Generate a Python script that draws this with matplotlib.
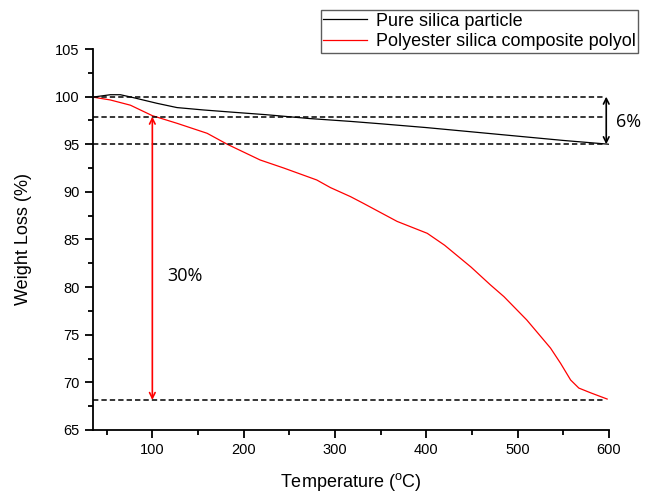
import numpy as np
import matplotlib
matplotlib.use("Agg")
import matplotlib.pyplot as plt
from matplotlib.ticker import MultipleLocator

plt.rcParams['font.family'] = ['Liberation Sans', 'DejaVu Sans']
plt.rcParams['mathtext.fontset'] = 'custom'
plt.rcParams['mathtext.rm'] = 'Liberation Sans'
plt.rcParams['mathtext.it'] = 'Liberation Sans'

# Pure silica particle
silica_T = [35, 54, 65, 79, 105, 127, 156, 190, 225, 272, 317, 350, 400, 450, 500, 550, 600]
silica_W = [99.95, 100.2, 100.2, 99.9, 99.3, 98.85, 98.6, 98.35, 98.1, 97.7, 97.4, 97.15, 96.75,
            96.3, 95.85, 95.4, 95.0]

# Polyester silica composite polyol
poly_T = [35, 54, 76, 100, 127, 160, 182, 218, 244, 280, 295, 317, 331, 368, 401, 420, 449, 470,
          485, 510, 536, 547, 558, 567, 580, 598]
poly_W = [99.95, 99.65, 99.1, 98.0, 97.2, 96.15, 95.0, 93.35, 92.5, 91.25, 90.45, 89.5, 88.8,
          86.9, 85.65, 84.4, 82.1, 80.25, 79.0, 76.55, 73.6, 72.0, 70.25, 69.4, 68.9, 68.25]

ref_levels = [100.0, 97.9, 95.0, 68.15]
ref_end_T = 595
arrow6_T = 597
arrow30_T = 100

fig = plt.figure(figsize=(6.58, 4.93), dpi=100)
ax = fig.add_axes([0.1413, 0.1278, 0.7842, 0.7728])

l1, = ax.plot(silica_T, silica_W, color='black', lw=0.9, label='Pure silica particle')
l2, = ax.plot(poly_T, poly_W, color='red', lw=0.9, label='Polyester silica composite polyol')

for lv in ref_levels:
    ax.plot([35, ref_end_T], [lv, lv], color='black', lw=1.1, ls=(0, (3.5, 2)))

ax.annotate('', xy=(arrow6_T, 95.0), xytext=(arrow6_T, 100.0),
            arrowprops=dict(arrowstyle='<->', color='black', lw=1.2, shrinkA=0, shrinkB=0))
ax.text(608, 97.3, '6%', fontsize=13, ha='left', va='center', family=['Open Sans', 'DejaVu Sans'],
        clip_on=False)
ax.annotate('', xy=(arrow30_T, 68.15), xytext=(arrow30_T, 97.9),
            arrowprops=dict(arrowstyle='<->', color='red', lw=1.2, shrinkA=0, shrinkB=0))
ax.text(116, 81.2, '30%', fontsize=13, ha='left', va='center', family=['Open Sans', 'DejaVu Sans'])

ax.set_xlim(35, 600)
ax.set_ylim(65, 105)
ax.xaxis.set_major_locator(MultipleLocator(100))
ax.xaxis.set_minor_locator(MultipleLocator(50))
ax.yaxis.set_major_locator(MultipleLocator(5))
ax.yaxis.set_minor_locator(MultipleLocator(2.5))
ax.spines['top'].set_visible(False)
ax.spines['right'].set_visible(False)
ax.spines['left'].set_linewidth(1.3)
ax.spines['bottom'].set_linewidth(1.3)
ax.tick_params(which='major', direction='out', length=6, width=1.3, labelsize=10.5)
ax.tick_params(which='minor', direction='out', length=3.5, width=1.3)

ax.set_xlabel(r'Temperature ($^{\mathrm{o}}$C)', fontsize=13, labelpad=10)
ax.set_ylabel('Weight Loss (%)', fontsize=13, labelpad=17)

leg = fig.legend(handles=[l1, l2], loc='upper right', bbox_to_anchor=(0.97, 0.98),
                 fontsize=13, frameon=True, fancybox=False, handlelength=2.4,
                 borderpad=0.15, labelspacing=0.2, handletextpad=0.5, borderaxespad=0)
leg.get_frame().set_edgecolor('#333333')
leg.get_frame().set_linewidth(1.0)

fig.savefig('out.png', dpi=100)
